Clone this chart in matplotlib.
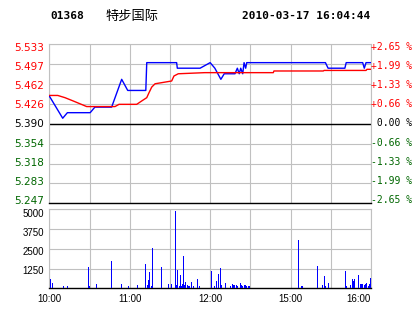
import matplotlib
matplotlib.use('Agg')
import matplotlib.pyplot as plt
from matplotlib.transforms import ScaledTranslation

# ---------------- data ----------------
code = "01368"
name = "特步国际"
stamp = "2010-03-17 16:04:44"
prev_close = 5.390

price_ticks = [5.533, 5.497, 5.462, 5.426, 5.390, 5.354, 5.318, 5.283, 5.247]
price_labels = ["5.533", "5.497", "5.462", "5.426", "5.390", "5.354", "5.318", "5.283", "5.247"]
pct_labels = ["+2.65 %", "+1.99 %", "+1.33 %", "+0.66 %", " 0.00 %",
              "-0.66 %", "-1.33 %", "-1.99 %", "-2.65 %"]

# minutes since 10:00 (lunch break removed; 150 = 12:30/14:30)
price_t = [0, 10, 13.5, 30.5, 34, 46.5, 54, 58.5, 72, 72.7, 95, 95.5, 112.5, 120,
           123.5, 128, 130.5, 138.5, 140.3, 141.7, 142.8, 144.3, 145.3, 146.5, 147.3,
           206, 208, 220.5, 221.5, 233.8, 235, 236.3, 240]
price_v = [5.44, 5.40, 5.41, 5.41, 5.42, 5.42, 5.47, 5.45, 5.45, 5.50, 5.50, 5.49,
           5.49, 5.50, 5.49, 5.47, 5.48, 5.48, 5.49, 5.48, 5.49, 5.48, 5.50, 5.49,
           5.50, 5.50, 5.49, 5.49, 5.50, 5.50, 5.49, 5.50, 5.50]

avg_t = [0, 6.3, 11.7, 17.9, 22.9, 27.9, 49, 52, 65.2, 68.9, 72.7, 74.4, 76.4, 78.9,
         91.3, 93, 96.2, 116, 167.1, 167.6, 204.4, 205, 236.3, 237, 240]
avg_v = [5.441, 5.441, 5.437, 5.431, 5.426, 5.421, 5.421, 5.425, 5.425, 5.431, 5.437,
         5.446, 5.456, 5.462, 5.467, 5.476, 5.480, 5.482, 5.482, 5.485, 5.485, 5.486,
         5.486, 5.488, 5.488]

vol_t = [0.7, 2.2, 10.4, 13.7, 29.1, 29.8, 35.1, 46.3, 53.7, 59.2, 65.7, 71.6, 73.1,
         73.9, 74.6, 76.1, 76.8, 83.6, 88.8, 91.0, 94.0, 94.7, 95.5, 97.0, 97.7, 98.5,
         99.2, 100.0, 100.7, 101.5, 103.0, 103.7, 104.4, 105.9, 107.4, 110.4, 111.9,
         120.9, 123.1, 124.6, 126.1, 127.6, 128.3, 131.3, 135.0, 136.5, 137.3, 138.0,
         139.5, 140.3, 142.5, 143.2, 144.0, 145.5, 146.2, 147.0, 148.5, 149.2,
         185.8, 188.0, 188.8, 199.9, 203.7, 205.2, 205.9, 208.1, 220.8, 221.6, 224.6,
         226.1, 226.8, 227.6, 230.5, 232.0, 232.7, 233.5, 235.0, 235.7, 236.5, 238.0,
         238.7, 239.5]
vol_v = [590, 335, 150, 150, 1350, 150, 270, 1730, 270, 150, 210, 1540, 210,
         525, 1030, 150, 2550, 1350, 270, 270, 4890, 210, 1160, 150, 840, 150,
         270, 2045, 210, 400, 210, 150, 150, 400, 150, 590, 150,
         1095, 150, 460, 905, 1285, 210, 335, 150, 270, 210, 210,
         210, 150, 335, 210, 150, 210, 210, 150, 150, 150,
         3055, 150, 150, 1410, 210, 780, 150, 335, 1095, 150, 210,
         590, 460, 590, 840, 270, 270, 270, 210, 270, 335, 150,
         270, 650]

vol_ticks = [1250, 2500, 3750, 5000]
time_labels = ["10:00", "", "11:00", "", "12:00", "", "15:00", "", "16:00"]

# ---------------- style ----------------
RED = '#ff0000'
GREEN = '#006600'
GRID = '#c0c0c0'
BLUE = '#0000ff'

fig = plt.figure(figsize=(4.14, 3.14), dpi=100)
fig.patch.set_facecolor('white')


def shift(px):
    """downward shift in pixels"""
    return ScaledTranslation(0, -px / 100.0, fig.dpi_scale_trans)


L, W = 49.3 / 414, (371 - 49.3) / 414
ax = fig.add_axes([L, (314 - 203.3) / 314, W, (203.3 - 44.3) / 314])
axv = fig.add_axes([L, (314 - 288.3) / 314, W, (288.3 - 209.3) / 314])

# main price chart
ax.set_xlim(0, 240)
ax.set_ylim(price_ticks[-1], price_ticks[0])
ax.set_xticks(range(0, 241, 30))
ax.set_xticklabels([])
ax.set_yticks(price_ticks)
ax.set_yticklabels(price_labels, fontsize=7.5, family='DejaVu Sans')
ax.tick_params(length=0, pad=4)
for i, (lab, p) in enumerate(zip(ax.get_yticklabels(), price_ticks)):
    lab.set_color(RED if p > prev_close + 1e-6 else ('black' if abs(p - prev_close) < 1e-6 else GREEN))
    lab.set_transform(lab.get_transform() + shift(2.9 - 0.81 * i))
ax.grid(True, color=GRID, lw=0.8)
ax.set_axisbelow(True)
for s in ['left', 'top', 'right']:
    ax.spines[s].set_color(GRID)
    ax.spines[s].set_linewidth(0.8)
ax.spines['bottom'].set_color('black')
ax.spines['bottom'].set_linewidth(1.0)
ax.axhline(prev_close, color='black', lw=1.0, zorder=2)

ax.plot(price_t, price_v, color=BLUE, lw=1.0, zorder=3)
ax.plot(avg_t, avg_v, color=RED, lw=1.0, zorder=4)

for i, (p, lab) in enumerate(zip(price_ticks, pct_labels)):
    c = RED if lab.startswith('+') else (GREEN if lab.startswith('-') else 'black')
    ax.text(1.0 + 0.5 / 322, p, lab, transform=ax.get_yaxis_transform() + shift(2.9 - 0.81 * i),
            ha='left', va='center', fontsize=7, family='DejaVu Sans Mono', color=c)

# volume chart
axv.set_xlim(0, 240)
axv.set_ylim(0, 5000)
axv.set_xticks(range(0, 241, 30))
axv.set_xticklabels(time_labels, fontsize=7, family='Liberation Sans')
labs = axv.get_xticklabels()
labs[-1].set_ha('right')
labs[-1].set_transform(labs[-1].get_transform() + ScaledTranslation(1.5 / 100, 0, fig.dpi_scale_trans))
axv.set_yticks(vol_ticks)
axv.set_yticklabels([str(v) for v in vol_ticks], fontsize=7, family='Liberation Sans')
axv.tick_params(length=0, pad=4)
for lab, d in zip(axv.get_yticklabels(), [1.0, 2.4, 3.0, 3.5]):
    lab.set_transform(lab.get_transform() + shift(d))
axv.grid(True, color=GRID, lw=0.8)
axv.set_axisbelow(True)
for s in ['left', 'top', 'right']:
    axv.spines[s].set_color(GRID)
    axv.spines[s].set_linewidth(0.8)
axv.spines['bottom'].set_color('black')
axv.spines['bottom'].set_linewidth(1.0)
axv.bar(vol_t, vol_v, width=0.7, color=BLUE, linewidth=0, zorder=3)

# header
fig.text(50 / 414, 1 - 16 / 314, code, fontsize=8, family='DejaVu Sans Mono',
         weight='bold', ha='left', va='center')
fig.text(105 / 414, 1 - 16 / 314, name, fontsize=9.5,
         family=['Noto Sans CJK SC', 'DejaVu Sans'], ha='left', va='center')
fig.text(370 / 414, 1 - 16 / 314, stamp, fontsize=8, family='DejaVu Sans Mono',
         weight='bold', ha='right', va='center')

fig.savefig('out.png', dpi=100)
